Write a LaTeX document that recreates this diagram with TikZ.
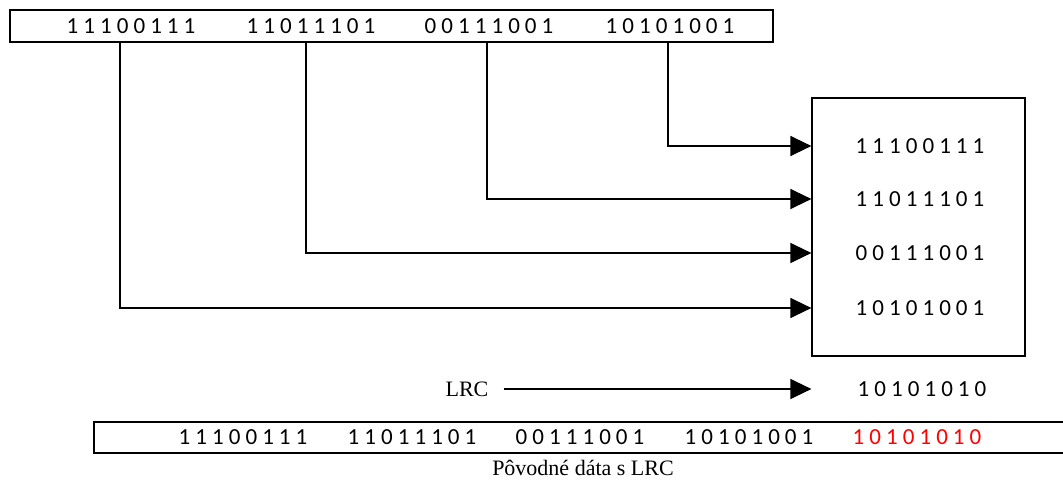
\documentclass[tikz,border=0pt]{standalone}
\usepackage{fontspec}
\setmainfont{Liberation Serif}
\newfontfamily\bitfont[LetterSpace=22]{Carlito}
\usetikzlibrary{arrows.meta,positioning}
\tikzset{bits/.style={font=\bitfont\fontsize{23}{27}\selectfont, inner sep=0pt}}
\tikzset{lbl/.style={font=\fontsize{22}{26}\selectfont, inner sep=0pt}}
\tikzset{frame/.style={draw, line width=1.2pt, inner sep=0pt}}
\tikzset{feed/.style={line width=1.3pt, -{Triangle[length=21pt,width=20pt]}}}

\begin{document}
\begin{tikzpicture}[x=1pt,y=-1pt]
  \useasboundingbox (0,0) rectangle (1063,481);
  \clip (0,0) rectangle (1063,481);

  % original data word
  \node[frame, minimum width=763pt, minimum height=32pt] (src) at (391.5,26) {};
  \node[bits] (a1) at (131,26) {11100111};
  \node[bits] (a2) at (311,26) {11011101};
  \node[bits] (a3) at (489,26) {00111001};
  \node[bits] (a4) at (670,26) {10101001};

  % stacked block
  \node[frame, minimum width=213pt, minimum height=258pt] (reg) at (918.5,227) {};
  \node[bits] (r1) at (920,146) {11100111};
  \node[bits] (r2) at (920,199) {11011101};
  \node[bits] (r3) at (920,253) {00111001};
  \node[bits] (r4) at (920,308) {10101001};

  \coordinate (d1) at (120,42);
  \coordinate (d2) at (306,42);
  \coordinate (d3) at (487,42);
  \coordinate (d4) at (668,42);
  \draw[feed] (d4) |- (reg.west |- r1);
  \draw[feed] (d3) |- (reg.west |- r2);
  \draw[feed] (d2) |- (reg.west |- r3);
  \draw[feed] (d1) |- (reg.west |- r4);

  % LRC
  \node[lbl] (lrc) at (467,389) {LRC};
  \node[bits] (chk) at (922,389) {10101010};
  \draw[feed] ([xshift=15pt]lrc.east) -- (reg.west |- chk);

  % data with LRC
  \node[frame, minimum width=980pt, minimum height=31pt] (out) at (584,437.5) {};
  \node[bits] (b1) at (243,437) {11100111};
  \node[bits] (b2) at (412,437) {11011101};
  \node[bits] (b3) at (580,437) {00111001};
  \node[bits] (b4) at (749,437) {10101001};
  \node[bits, text=red] (b5) at (917,437) {10101010};
  \node[lbl] (cap) at (583,468) {Pôvodné dáta s LRC};
\end{tikzpicture}
\end{document}
